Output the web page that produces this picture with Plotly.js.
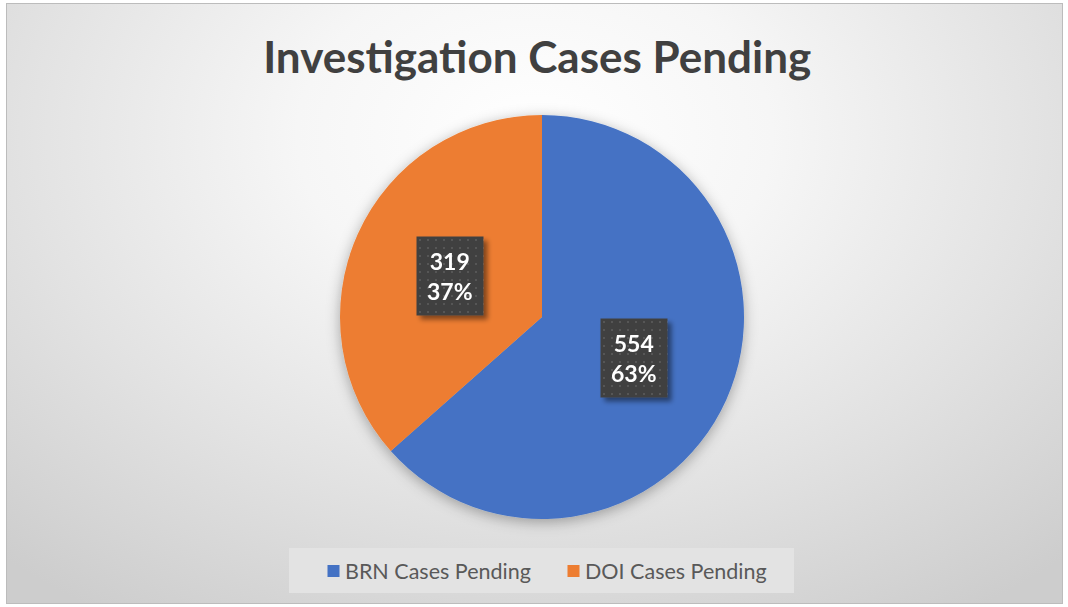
<!DOCTYPE html>
<html>
<head>
<meta charset="utf-8">
<script src="https://cdn.plot.ly/plotly-3.0.1.min.js"></script>
<style>
  html, body { margin: 0; padding: 0; width: 1068px; height: 607px; overflow: hidden; background: #ffffff; }
  #frame {
    position: absolute; left: 6px; top: 3px; width: 1055px; height: 599px;
    border: 1px solid #bcbcbc;
    background: radial-gradient(ellipse 75% 95% at 50% 22%, #ffffff 0%, #f6f6f6 30%, #e2e2e2 65%, #cdcdcd 100%);
  }
  #chart { position: absolute; left: 0; top: 0; width: 1068px; height: 607px; }
</style>
</head>
<body>
<div id="frame"></div>
<div id="chart"></div>
<script>
// ---- data ----
const categories = ["BRN Cases Pending", "DOI Cases Pending"];
const values = [554, 319];
const colors = ["#4472C4", "#ED7D31"];
const chartTitle = "Investigation Cases Pending";

const total = values.reduce((a, b) => a + b, 0);
const percents = values.map(v => Math.round(v / total * 100));

// layout geometry (pie domain fills plot area)
const W = 1068, H = 607;
const margin = { l: 16, r: 0, t: 115, b: 88 };
const plotW = W - margin.l - margin.r;
const plotH = H - margin.t - margin.b;
const R = Math.min(plotW, plotH) / 2;
const labelFrac = 0.5;

// data-label annotations placed on each slice's mid-angle (clockwise from 12 o'clock)
const annotations = [];
let cum = 0;
values.forEach((v, i) => {
  const mid = (cum + v / 2) / total * 2 * Math.PI;
  cum += v;
  const dx = Math.sin(mid) * R * labelFrac;
  const dy = Math.cos(mid) * R * labelFrac;
  annotations.push({
    xref: 'paper', yref: 'paper',
    x: 0.5 + dx / plotW, y: 0.5 + dy / plotH,
    xanchor: 'center', yanchor: 'middle',
    showarrow: false,
    text: '<b>' + v + '</b><br><b>' + percents[i] + '%</b>',
    font: { family: 'Lato, "Open Sans", sans-serif', size: 23, color: '#ffffff' },
    bgcolor: '#404040',
    borderpad: 10,
    align: 'center'
  });
});

const trace = {
  type: 'pie',
  labels: categories,
  values: values,
  sort: false,
  direction: 'clockwise',
  rotation: 0,
  marker: { colors: colors, line: { width: 0 } },
  textinfo: 'none',
  hoverinfo: 'label+value+percent',
  domain: { x: [0, 1], y: [0, 1] }
};

// legend panel (background box) in paper units
const px2x = p => (p - margin.l) / plotW;
const px2y = p => (H - margin.b - p) / plotH;

const layout = {
  width: W, height: H,
  margin: margin,
  paper_bgcolor: 'rgba(0,0,0,0)',
  plot_bgcolor: 'rgba(0,0,0,0)',
  title: {
    text: '<b>' + chartTitle + '</b>',
    font: { family: 'Lato, "Open Sans", sans-serif', size: 44, color: '#404040' },
    xref: 'container', x: 0.503,
    yref: 'container', y: 0.905, yanchor: 'middle'
  },
  showlegend: true,
  legend: {
    orientation: 'h',
    x: px2x(305), xanchor: 'left',
    y: -0.078, yanchor: 'top',
    bgcolor: 'rgba(0,0,0,0)',
    font: { family: 'Lato, "Open Sans", sans-serif', size: 21.5, color: '#595959' },
    entrywidth: 195,
    traceorder: 'normal'
  },
  shapes: [{
    type: 'rect', xref: 'paper', yref: 'paper', layer: 'below',
    x0: px2x(289), x1: px2x(794), y0: px2y(548), y1: px2y(593),
    fillcolor: '#e3e3e3', line: { width: 0 }
  }],
  annotations: annotations
};

Plotly.newPlot('chart', [trace], layout, { displayModeBar: false, staticPlot: true }).then(gd => {
  const NS = 'http://www.w3.org/2000/svg';
  function ensureDefs(svg) {
    let defs = svg.querySelector('defs.custom-fx');
    if (defs) return defs;
    defs = document.createElementNS(NS, 'defs');
    defs.setAttribute('class', 'custom-fx');
    defs.innerHTML =
      '<filter id="pieShadow" x="-20%" y="-20%" width="140%" height="140%">' +
        '<feGaussianBlur in="SourceAlpha" stdDeviation="7"/>' +
        '<feOffset dx="0" dy="3" result="b"/>' +
        '<feFlood flood-color="#000" flood-opacity="0.32"/>' +
        '<feComposite in2="b" operator="in"/>' +
        '<feMerge><feMergeNode/><feMergeNode in="SourceGraphic"/></feMerge>' +
      '</filter>' +
      '<filter id="boxShadow" x="-30%" y="-30%" width="160%" height="160%">' +
        '<feGaussianBlur in="SourceAlpha" stdDeviation="2.5"/>' +
        '<feOffset dx="4" dy="4" result="b"/>' +
        '<feFlood flood-color="#000" flood-opacity="0.45"/>' +
        '<feComposite in2="b" operator="in"/>' +
        '<feMerge><feMergeNode/><feMergeNode in="SourceGraphic"/></feMerge>' +
      '</filter>' +
      '<pattern id="dots" width="8" height="8" patternUnits="userSpaceOnUse">' +
        '<rect width="8" height="8" fill="#404040"/>' +
        '<rect x="3" y="3" width="2" height="2" fill="#565656"/>' +
      '</pattern>';
    svg.insertBefore(defs, svg.firstChild);
    return defs;
  }
  gd.querySelectorAll('.pielayer .trace').forEach(g => {
    ensureDefs(g.ownerSVGElement);
    g.setAttribute('filter', 'url(#pieShadow)');
  });
  gd.querySelectorAll('.annotation').forEach(a => {
    ensureDefs(a.ownerSVGElement);
    const bg = a.querySelector('rect.bg');
    if (bg) { bg.style.fill = 'url(#dots)'; }
    a.setAttribute('filter', 'url(#boxShadow)');
  });
  // move legend swatches closer to their text, as in the reference
  gd.querySelectorAll('.legend g.legendpoints').forEach(g => {
    g.setAttribute('transform', 'translate(8.5,0)');
  });
});
</script>
</body>
</html>
